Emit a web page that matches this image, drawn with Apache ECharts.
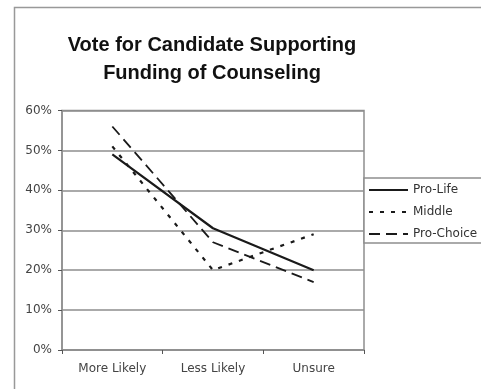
<!DOCTYPE html>
<html><head><meta charset="utf-8">
<script src="https://cdn.jsdelivr.net/npm/echarts@6/dist/echarts.min.js"></script>
<style>html,body{margin:0;padding:0;background:#fff}#c{width:481px;height:389px}</style>
</head><body><div id="c"></div>
<script>
const categories = ['More Likely', 'Less Likely', 'Unsure'];
const proLife = [49, 30.5, 20];
const middle = [51, 20, 29];
const proChoice = [56, 27, 17];
const yTicks = [0, 10, 20, 30, 40, 50, 60];

const gray = '#8e8e8e';
const chart = echarts.init(document.getElementById('c'), null, {renderer: 'canvas'});
chart.setOption({
  animation: false,
  backgroundColor: '#fff',
  title: {
    text: 'Vote for Candidate Supporting\nFunding of Counseling',
    left: 212, top: 31, padding: 0, textAlign: 'center',
    textStyle: {fontFamily: 'Liberation Sans', fontWeight: 'bold', fontSize: 20, lineHeight: 28, color: '#111'}
  },
  graphic: [
    {type: 'rect', shape: {x: 14.5, y: 7.5, width: 700, height: 700}, style: {fill: 'none', stroke: '#999', lineWidth: 1.5}, z: -1},
    {type: 'rect', shape: {x: 364, y: 178, width: 300, height: 65}, style: {fill: '#fff', stroke: gray, lineWidth: 1.5}, z: 0}
  ],
  legend: {
    orient: 'vertical', left: 368, top: 183, padding: 0,
    itemWidth: 39, itemHeight: 10, itemGap: 8, itemStyle: {opacity: 0},
    textStyle: {fontFamily: 'DejaVu Sans', fontSize: 12, color: '#333', lineHeight: 14},
    data: ['Pro-Life', 'Middle', 'Pro-Choice'], z: 5
  },
  grid: {left: 62, top: 110.5, right: 117, bottom: 39, show: true, borderColor: gray, borderWidth: 1.5, backgroundColor: 'transparent'},
  xAxis: {
    type: 'category', data: categories, boundaryGap: true,
    axisLine: {lineStyle: {color: gray, width: 1.5}},
    axisTick: {show: true, length: 4, lineStyle: {color: '#555', width: 1}},
    axisLabel: {fontFamily: 'DejaVu Sans', fontSize: 12, color: '#444', margin: 13}
  },
  yAxis: {
    type: 'value', min: 0, max: 60, interval: 10,
    axisLine: {show: true, lineStyle: {color: gray, width: 1.5}},
    axisTick: {show: true, length: 4, lineStyle: {color: '#555', width: 1}},
    splitLine: {lineStyle: {color: gray, width: 1.5}},
    axisLabel: {fontFamily: 'DejaVu Sans', fontSize: 12, color: '#444', margin: 10,
      formatter: v => (yTicks.indexOf(v) >= 0 ? v + '%' : '')}
  },
  series: [
    {name: 'Pro-Life', type: 'line', data: proLife, symbol: 'none', lineStyle: {color: '#1a1a1a', width: 2.2, type: 'solid'}, itemStyle: {color: '#1a1a1a'}},
    {name: 'Middle', type: 'line', data: middle, symbol: 'none', lineStyle: {color: '#1a1a1a', width: 2.2, type: [4, 7]}, itemStyle: {color: '#1a1a1a'}},
    {name: 'Pro-Choice', type: 'line', data: proChoice, symbol: 'none', lineStyle: {color: '#1a1a1a', width: 1.8, type: [11, 6]}, itemStyle: {color: '#1a1a1a'}}
  ]
});
</script></body></html>
